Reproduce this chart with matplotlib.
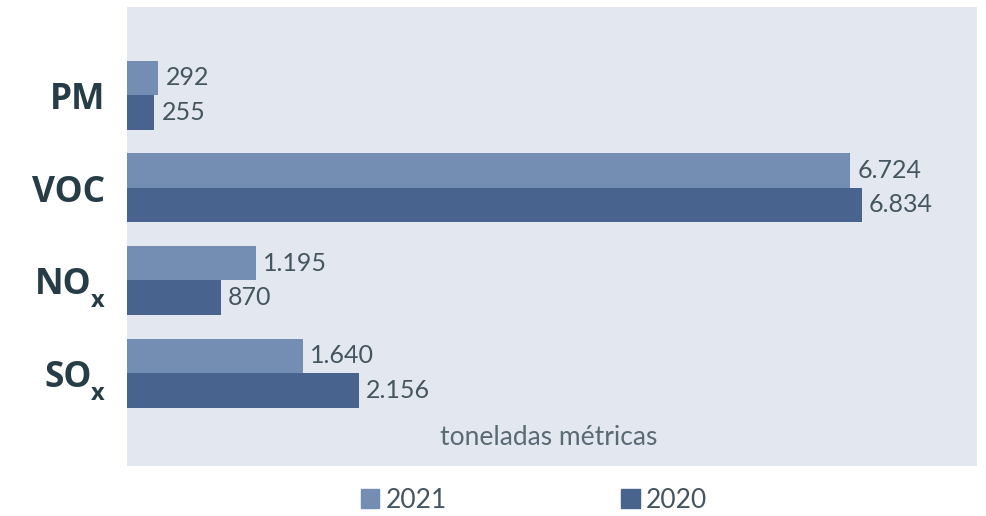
import matplotlib.pyplot as plt
from matplotlib.patches import Patch
import numpy as np

# emissions data (toneladas métricas)
categories = ['PM', 'VOC', 'NO', 'SO']
subscripts = ['', '', 'x', 'x']
values_2021 = [292, 6724, 1195, 1640]
values_2020 = [255, 6834, 870, 2156]
labels_2021 = ['292', '6.724', '1.195', '1.640']
labels_2020 = ['255', '6.834', '870', '2.156']

light = '#748db3'
dark = '#48638d'
bg = '#e3e8f0'
txt = '#45555f'
cat_col = '#263d47'

plt.rcParams['font.family'] = ['Lato', 'DejaVu Sans']

fig = plt.figure(figsize=(9.86, 5.16), dpi=100)
ax = fig.add_axes([127 / 986, 50 / 516, 850 / 986, 459 / 516])
ax.set_facecolor(bg)

y = np.arange(len(categories))
h = 0.372
b1 = ax.barh(y - h / 2, values_2021, height=h, color=light)
b2 = ax.barh(y + h / 2, values_2020, height=h, color=dark)

for bars, labs in [(b1, labels_2021), (b2, labels_2020)]:
    for bar, lab in zip(bars, labs):
        ax.annotate(lab, (bar.get_width(), bar.get_y() + bar.get_height() / 2),
                    xytext=(7, 0), textcoords='offset pixels', va='center',
                    ha='left', fontsize=18, color=txt)

ax.set_xlim(0, 7903)
ax.set_ylim(4.003, -0.95)
ax.set_xticks([])
ax.set_yticks([])
for s in ax.spines.values():
    s.set_visible(False)

# category labels with lowered subscripts
for yi, cat, sub in zip(y, categories, subscripts):
    dx = -35 if sub else -22
    ax.annotate(cat, (0, yi), xycoords=('axes fraction', 'data'),
                xytext=(dx, -14), textcoords='offset pixels', ha='right',
                va='baseline', fontsize=25.5, fontweight='bold', color=cat_col,
                family='Open Sans', annotation_clip=False)
    if sub:
        ax.annotate(sub, (0, yi), xycoords=('axes fraction', 'data'),
                    xytext=(-22, -27), textcoords='offset pixels', ha='right',
                    va='baseline', fontsize=17, fontweight='bold', color=cat_col,
                    family='Open Sans', annotation_clip=False)

ax.text(0.496, 0.035, 'toneladas métricas', transform=ax.transAxes, ha='center',
        va='bottom', fontsize=19, color='#5a6a75')

handles = [Patch(color=light, label='2021'), Patch(color=dark, label='2020')]
leg = fig.legend(handles=handles, loc='center', bbox_to_anchor=(534 / 986, 1 - 500 / 516),
                 ncol=2, frameon=False, fontsize=19, handlelength=0.7, handleheight=0.7,
                 handletextpad=0.25, columnspacing=6.6, borderaxespad=0)
for t in leg.get_texts():
    t.set_color(txt)

fig.savefig('out.png', dpi=100)
